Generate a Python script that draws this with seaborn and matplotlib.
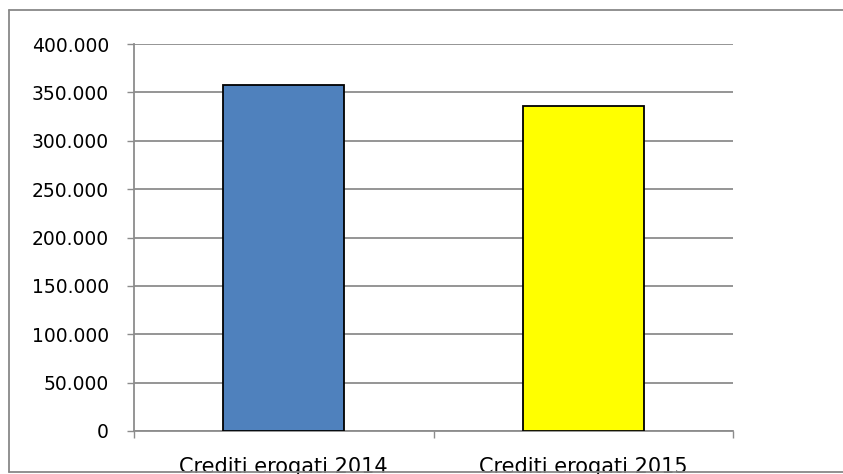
import numpy as np
import pandas as pd
import matplotlib
matplotlib.use('Agg')
import matplotlib.pyplot as plt
import seaborn as sns
from matplotlib.ticker import FuncFormatter, FixedLocator
from matplotlib.lines import Line2D

categories = ['Crediti erogati 2014', 'Crediti erogati 2015']
values = [358000, 336000]
bar_colors = ['#4F81BD', '#FFFF00']

sns.set_style('white')
plt.rcParams['font.family'] = ['DejaVu Sans']

df = pd.DataFrame({'cat': categories, 'val': values})

W, H = 843, 474
fig = plt.figure(figsize=(W / 100, H / 100), dpi=100)
ax = fig.add_axes([134 / W, (H - 431) / H, (733 - 134) / W, (431 - 44) / H])

sns.barplot(data=df, x='cat', y='val', hue='cat', palette=bar_colors,
            saturation=1, width=0.404, edgecolor='black', linewidth=1.3,
            legend=False, ax=ax, zorder=3)

grid_c = '#8c8c8c'
ax.set_ylim(0, 400000)
ax.set_xlim(-0.5, 1.5)
ax.set_yticks(np.arange(0, 400001, 50000))
ax.yaxis.set_major_formatter(FuncFormatter(lambda v, p: f'{int(v):,}'.replace(',', '.')))
ax.yaxis.grid(True, color=grid_c, linewidth=1.3, zorder=0)
ax.set_axisbelow(True)
ax.set_xlabel('')
ax.set_ylabel('')

for s in ['top', 'right']:
    ax.spines[s].set_visible(False)
for s in ['left', 'bottom']:
    ax.spines[s].set_color(grid_c)
    ax.spines[s].set_linewidth(1.3)

ax.tick_params(axis='y', which='major', left=True, length=5, width=1, color=grid_c,
               pad=13, labelsize=13.5, labelcolor='black')
ax.tick_params(axis='x', which='major', bottom=False, length=0, pad=19,
               labelsize=15, labelcolor='black')
ax.xaxis.set_minor_locator(FixedLocator([-0.5, 0.5, 1.5]))
ax.tick_params(axis='x', which='minor', bottom=True, length=5, width=1, color=grid_c)

# outer chart-area border: left, top and bottom edges only
bx0, by0, by1 = 9 / W, 1 - 472 / H, 1 - 10 / H
for xs, ys in [([bx0, bx0], [by0, by1]), ([bx0, 1.0], [by1, by1]), ([bx0, 1.0], [by0, by0])]:
    fig.add_artist(Line2D(xs, ys, transform=fig.transFigure, color='#888888', linewidth=1.3))

fig.savefig('out.png', dpi=100)
